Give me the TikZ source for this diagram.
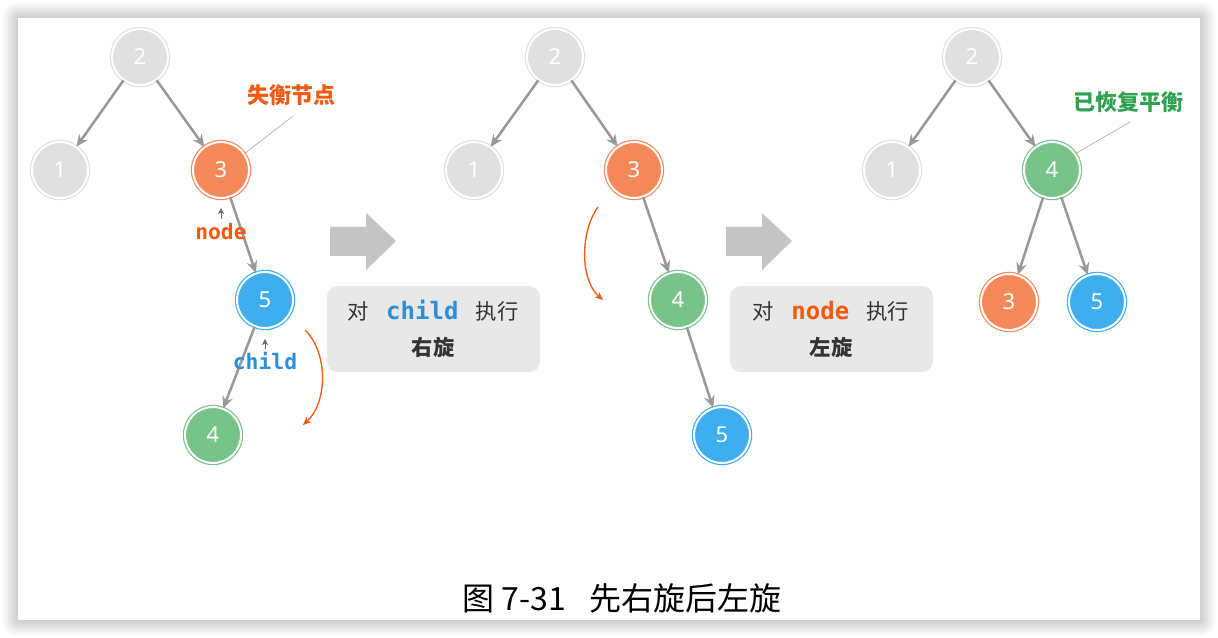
\documentclass[tikz,border=0pt]{standalone}
\usepackage{fontspec}
\setmainfont{Noto Sans}
\newfontfamily\cjk{Noto Sans CJK SC}
\newfontfamily\mono{DejaVu Sans Mono}
\usetikzlibrary{arrows.meta}
\definecolor{ngray}{HTML}{E0E0E0}
\definecolor{ngrayring}{HTML}{E0E0E0}
\definecolor{norange}{HTML}{F5895A}
\definecolor{nblue}{HTML}{3FAEEF}
\definecolor{ngreen}{HTML}{77C38A}
\definecolor{egray}{HTML}{999999}
\definecolor{tor}{HTML}{F25A0F}
\definecolor{tbl}{HTML}{2C8FDB}
\definecolor{tgr}{HTML}{2FA24F}
\definecolor{boxg}{HTML}{E8E8E8}
\definecolor{bigar}{HTML}{C4C4C4}
\definecolor{txt}{HTML}{333333}
\tikzset{
  tn/.style={circle, minimum size=42pt, inner sep=0pt, line width=0.9pt,
    double distance=1.5pt, double=white, text=white,
    font=\fontsize{16.5}{16.5}\selectfont},
  gn/.style={tn, draw=ngrayring, fill=ngray},
  on/.style={tn, draw=norange, fill=norange},
  bn/.style={tn, draw=nblue, fill=nblue},
  vn/.style={tn, draw=ngreen, fill=ngreen},
  edge/.style={draw=egray, line width=1.9pt, -{Stealth[length=9pt,width=8pt,inset=3pt]}},
  oarc/.style={draw=tor, line width=1pt, -{Stealth[length=6pt,width=5pt,inset=1.5pt]}},
  ptr/.style={draw=egray!70!black, line width=0.6pt, -{Stealth[length=4.5pt,width=4.5pt,inset=1.2pt]}},
  lead/.style={draw=egray!80, line width=0.5pt},
  graybox/.style={fill=boxg, rounded corners=8pt},
  bigarrow/.style={fill=bigar},
  btxt/.style={font=\cjk\fontsize{16}{16}\selectfont, text=txt},
  bbold/.style={font=\cjk\bfseries\fontsize{16}{16}\selectfont, text=txt},
  ann/.style={font=\cjk\bfseries\fontsize{16.5}{16.5}\selectfont},
  monol/.style={font=\mono\bfseries\fontsize{16}{16}\selectfont},
}
\begin{document}
\begin{tikzpicture}[x=0.75pt,y=-0.75pt]
\useasboundingbox (0,0) rectangle (1218,638);
% card shadow
\foreach \i in {1,...,16}{
  \fill[black, opacity=0.011, rounded corners=\i*0.75pt] (18-\i,18-\i) rectangle (1200+\i,620+\i);
}
\fill[white] (18,18) rectangle (1200,620);

% ---------- tree 1 ----------
\node[gn] (a2) at (140,57) {2};
\node[gn] (a1) at (60,170) {1};
\node[on] (a3) at (221,170) {3};
\node[bn] (a5) at (265,300) {5};
\node[vn] (a4) at (213,435) {4};
\draw[edge] (a2) -- (a1);
\draw[edge] (a2) -- (a3);
\draw[edge] (a3) -- (a5);
\draw[edge] (a5) -- (a4);
\node[ann, text=tor] (lab1) at (291,95) {失衡节点};
\coordinate (lab1e) at (293,116);
\draw[lead] (a3.35) -- (lab1e);
\node[monol, text=tor] (nodelab) at (221,232) {node};
\coordinate (np1) at (221,219);
\coordinate (np2) at (221,208);
\draw[ptr] (np1) -- (np2);
\node[monol, text=tbl] (childlab) at (265,361) {child};
\coordinate (cp1) at (265,349);
\coordinate (cp2) at (265,339);
\draw[ptr] (cp1) -- (cp2);
\coordinate (r1s) at (305,330);
\coordinate (r1e) at (303,425);
\draw[oarc] (r1s) .. controls (328,352) and (328,402) .. (r1e);

% arrow 1 and box 1
\fill[bigarrow] (330,227) -- (366,227) -- (366,213) -- (396,241) -- (366,270) -- (366,256) -- (330,256) -- cycle;
\fill[graybox] (327,286) rectangle (540,372);
\node[btxt] (b1l1) at (433,311) {对\hspace{13pt}{\mono\bfseries\fontsize{18}{18}\selectfont\textcolor{tbl}{child}}\hspace{13pt}执行};
\node[bbold] (b1l2) at (433,347) {右旋};

% ---------- tree 2 ----------
\node[gn] (b2) at (555,57) {2};
\node[gn] (b1) at (474,170) {1};
\node[on] (b3) at (634,170) {3};
\node[vn] (b4) at (678,300) {4};
\node[bn] (b5) at (722,435) {5};
\draw[edge] (b2) -- (b1);
\draw[edge] (b2) -- (b3);
\draw[edge] (b3) -- (b4);
\draw[edge] (b4) -- (b5);
\coordinate (r2s) at (598,207);
\coordinate (r2e) at (603,300);
\draw[oarc] (r2s) .. controls (580,232) and (580,280) .. (r2e);

% arrow 2 and box 2
\fill[bigarrow] (726,227) -- (762,227) -- (762,213) -- (792,241) -- (762,270) -- (762,256) -- (726,256) -- cycle;
\fill[graybox] (730,286) rectangle (933,372);
\node[btxt] (b2l1) at (831,311) {对\hspace{13pt}{\mono\bfseries\fontsize{18}{18}\selectfont\textcolor{tor}{node}}\hspace{13pt}执行};
\node[bbold] (b2l2) at (831,347) {左旋};

% ---------- tree 3 ----------
\node[gn] (c2) at (972,57) {2};
\node[gn] (c1) at (892,170) {1};
\node[vn] (c4) at (1052,170) {4};
\node[on] (c3) at (1009,302) {3};
\node[bn] (c5) at (1097,302) {5};
\draw[edge] (c2) -- (c1);
\draw[edge] (c2) -- (c4);
\draw[edge] (c4) -- (c3);
\draw[edge] (c4) -- (c5);
\node[ann, text=tgr] (lab3) at (1128,102) {已恢复平衡};
\coordinate (lab3e) at (1130,122);
\draw[lead] (c4.35) -- (lab3e);

% caption
\node[font=\cjk\fontsize{24}{24}\selectfont, text=black] (cap) at (622,598) {图 7-31\hspace{18pt}先右旋后左旋};
\end{tikzpicture}
\end{document}
